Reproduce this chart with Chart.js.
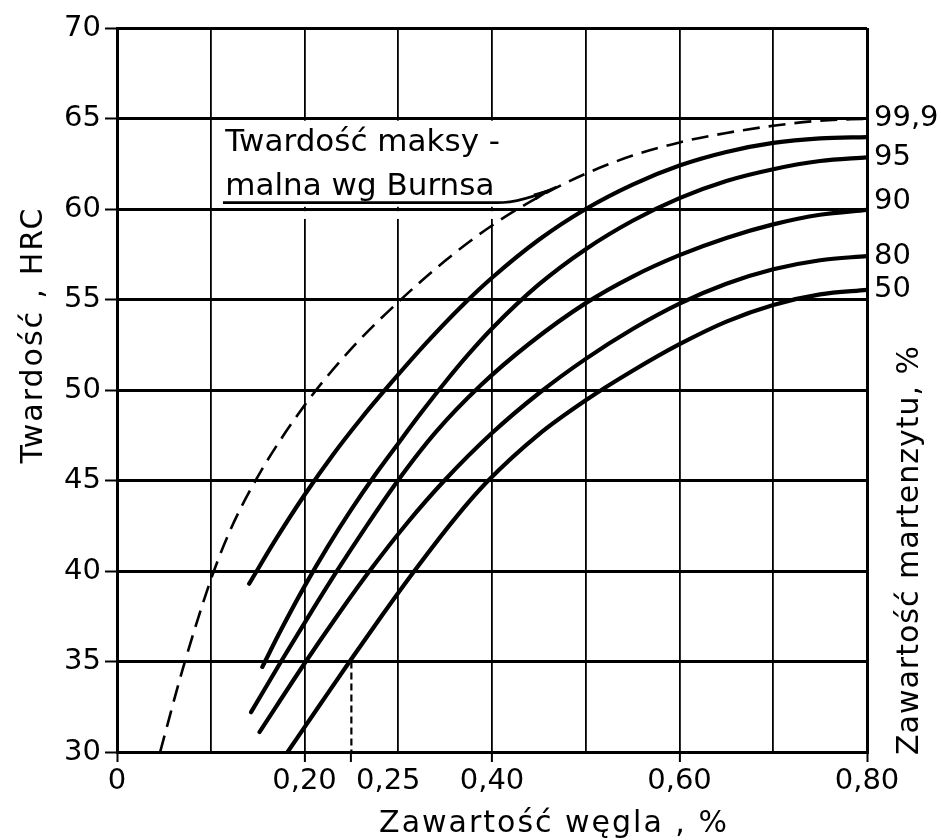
<!DOCTYPE html>
<html><head><meta charset="utf-8">
<script src="https://cdn.jsdelivr.net/npm/chart.js@4.4.1/dist/chart.umd.min.js"></script>
<style>html,body{margin:0;padding:0;background:#fff}canvas{display:block}</style>
</head><body>
<canvas id="c" width="941" height="840"></canvas>
<script>
// ---- tick values / labels ----
const xTickValues = [0, 0.20, 0.25, 0.40, 0.60, 0.80];
const xTickLabels = ['0', '0,20', '0,25', '0,40', '0,60', '0,80'];
const xGridValues = [0, 0.1, 0.2, 0.3, 0.4, 0.5, 0.6, 0.7, 0.8];
const yTickValues = [30, 35, 40, 45, 50, 55, 60, 65, 70];

// ---- texts ----
const xTitle = 'Zawartość węgla , %';
const yTitle = 'Twardość , HRC';
const rightTitle = 'Zawartość martenzytu, %';
const noteLines = ['Twardość maksy -', 'malna wg Burnsa'];
const endLabels = ['99,9', '', '95', '90', '80', '50'];

// ---- series (carbon %, HRC) ----
const burnsC   = [0.046,0.07,0.10,0.12,0.15,0.20,0.25,0.30,0.35,0.40,0.45,0.50,0.55,0.60,0.65,0.70,0.75,0.80];
const burnsHRC = [30.0,34.56,39.51,42.16,45.2,49.15,52.28,54.86,57.14,59.09,60.67,61.95,62.95,63.68,64.2,64.6,64.88,64.99];

const curveA_C   = [0.141,0.17,0.20,0.23,0.26,0.29,0.33,0.37,0.40,0.45,0.50,0.55,0.60,0.65,0.70,0.75,0.80];
const curveA_HRC = [39.3,41.8,44.2,46.4,48.4,50.25,52.6,54.75,56.2,58.3,60.0,61.35,62.4,63.15,63.65,63.9,63.97];

const curve95_C   = [0.155,0.175,0.20,0.225,0.25,0.275,0.30,0.325,0.35,0.375,0.40,0.45,0.50,0.55,0.60,0.65,0.70,0.75,0.80];
const curve95_HRC = [34.7,36.75,39.15,41.36,43.4,45.29,47.05,48.78,50.43,51.98,53.4,55.83,57.78,59.35,60.6,61.55,62.2,62.65,62.85];

const curve90_C   = [0.143,0.175,0.205,0.235,0.265,0.298,0.34,0.388,0.44,0.50,0.55,0.60,0.65,0.70,0.75,0.80];
const curve90_HRC = [32.2,35.0,37.55,40.03,42.4,44.88,47.67,50.26,52.57,54.8,56.27,57.45,58.4,59.15,59.68,59.95];

const curve80_C   = [0.152,0.20,0.235,0.27,0.31,0.35,0.40,0.45,0.50,0.55,0.60,0.65,0.70,0.75,0.80];
const curve80_HRC = [31.1,34.89,37.53,40.04,42.68,45.04,47.62,49.82,51.72,53.37,54.77,55.87,56.67,57.17,57.4];

const curve50_C   = [0.182,0.215,0.25,0.283,0.316,0.36,0.395,0.45,0.50,0.55,0.60,0.65,0.70,0.75,0.80];
const curve50_HRC = [30.0,32.5,35.14,37.57,39.92,42.87,44.94,47.55,49.43,51.06,52.53,53.78,54.7,55.28,55.53];

// ---- build ----
const FONT = '"DejaVu Sans", "Liberation Sans", sans-serif';
Chart.defaults.font.family = FONT;
Chart.defaults.color = '#000';

const allXTicks = [...new Set([...xGridValues, ...xTickValues])].sort((a, b) => a - b);
const labelIndex = v => xTickValues.findIndex(t => Math.abs(t - v) < 1e-9);
const series = (cs, hs) => cs.map((c, i) => ({ x: c, y: hs[i] }));

const solid = { borderColor: '#000', borderWidth: 4.2, pointRadius: 0, pointHoverRadius: 0,
  cubicInterpolationMode: 'monotone', fill: false, borderCapStyle: 'round', borderJoinStyle: 'round' };

const datasets = [
  { ...solid, label: 'Twardość maksymalna wg Burnsa', data: series(burnsC, burnsHRC),
    borderWidth: 2.6, borderDash: [17, 9], borderCapStyle: 'butt', endLabel: endLabels[0], labelShift: 0 },
  { ...solid, label: 'krzywa górna', data: series(curveA_C, curveA_HRC), endLabel: endLabels[1], labelShift: 0 },
  { ...solid, label: '95 %', data: series(curve95_C, curve95_HRC), endLabel: endLabels[2], labelShift: 0 },
  { ...solid, label: '90 %', data: series(curve90_C, curve90_HRC), endLabel: endLabels[3], labelShift: -8 },
  { ...solid, label: '80 %', data: series(curve80_C, curve80_HRC), endLabel: endLabels[4], labelShift: 0 },
  { ...solid, label: '50 %', data: series(curve50_C, curve50_HRC), endLabel: endLabels[5], labelShift: 0 }
];

const decor = {
  id: 'decor',
  beforeDraw(chart) {
    const c = chart.ctx; c.save(); c.fillStyle = '#fff'; c.fillRect(0, 0, chart.width, chart.height); c.restore();
  },
  beforeDatasetsDraw(chart) {
    const { ctx, scales: { x, y } } = chart;
    ctx.save();
    ctx.fillStyle = '#fff';
    const l = x.getPixelForValue(0.15), r = x.getPixelForValue(0.45);
    const t1 = y.getPixelForValue(64.88), b1 = y.getPixelForValue(60.12);
    ctx.fillRect(l, t1, r - l, b1 - t1);
    const t2 = y.getPixelForValue(59.88), b2 = y.getPixelForValue(59.45);
    ctx.fillRect(l, t2, r - l, b2 - t2);
    // short dashed marker at 0,25
    ctx.strokeStyle = '#000'; ctx.lineWidth = 2.2; ctx.setLineDash([7, 4]);
    const xm = x.getPixelForValue(0.25);
    ctx.beginPath(); ctx.moveTo(xm, y.getPixelForValue(35)); ctx.lineTo(xm, y.getPixelForValue(30)); ctx.stroke();
    ctx.restore();
  },
  afterDatasetsDraw(chart) {
    const { ctx, chartArea: ca, scales: { x, y } } = chart;
    ctx.save();
    ctx.fillStyle = '#000'; ctx.strokeStyle = '#000';
    // note text
    ctx.font = '31px ' + FONT;
    ctx.textAlign = 'left'; ctx.textBaseline = 'alphabetic';
    ctx.fillText(noteLines[0], x.getPixelForValue(0.1155), y.getPixelForValue(63.2));
    ctx.fillText(noteLines[1], x.getPixelForValue(0.1155), y.getPixelForValue(60.8));
    // leader line with arrow
    const p0 = [x.getPixelForValue(0.113), y.getPixelForValue(60.35)];
    const p1 = [x.getPixelForValue(0.405), y.getPixelForValue(60.35)];
    const cp = [x.getPixelForValue(0.432), y.getPixelForValue(60.35)];
    const p2 = [x.getPixelForValue(0.469), y.getPixelForValue(61.22)];
    ctx.lineWidth = 2.8;
    ctx.beginPath(); ctx.moveTo(p0[0], p0[1]); ctx.lineTo(p1[0], p1[1]);
    ctx.quadraticCurveTo(cp[0], cp[1], p2[0], p2[1]); ctx.stroke();
    const ang = Math.atan2(p2[1] - cp[1], p2[0] - cp[0]);
    const L = 24, W = 3.5;
    ctx.beginPath();
    ctx.moveTo(p2[0], p2[1]);
    ctx.lineTo(p2[0] - L * Math.cos(ang) + W * Math.sin(ang), p2[1] - L * Math.sin(ang) - W * Math.cos(ang));
    ctx.lineTo(p2[0] - L * Math.cos(ang) - W * Math.sin(ang), p2[1] - L * Math.sin(ang) + W * Math.cos(ang));
    ctx.closePath(); ctx.fill();
    // end labels
    ctx.font = '29px ' + FONT;
    ctx.textBaseline = 'middle';
    chart.data.datasets.forEach(ds => {
      if (!ds.endLabel) return;
      const last = ds.data[ds.data.length - 1];
      ctx.fillText(ds.endLabel, ca.right + 7, y.getPixelForValue(last.y) + (ds.labelShift || 0));
    });
    ctx.restore();
  },
  afterDraw(chart) {
    const { ctx, chartArea: ca } = chart;
    ctx.save();
    ctx.fillStyle = '#000';
    ctx.font = '30px ' + FONT;
    ctx.letterSpacing = '2px';
    ctx.textAlign = 'center'; ctx.textBaseline = 'alphabetic';
    ctx.fillText(xTitle, (ca.left + ca.right) / 2 + 62, ca.bottom + 80);
    ctx.save();
    ctx.translate(ca.left - 75, (ca.top + ca.bottom) / 2 - 55);
    ctx.rotate(-Math.PI / 2);
    ctx.fillText(yTitle, 0, 0);
    ctx.restore();
    ctx.letterSpacing = '1px';
    ctx.save();
    ctx.translate(ca.right + 51, (ca.top + ca.bottom) / 2 + 160);
    ctx.rotate(-Math.PI / 2);
    ctx.fillText(rightTitle, 0, 0);
    ctx.restore();
    ctx.restore();
  }
};

new Chart(document.getElementById('c'), {
  type: 'line',
  data: { datasets },
  plugins: [decor],
  options: {
    responsive: false,
    animation: false,
    devicePixelRatio: 1,
    layout: { padding: { top: 28, right: 74, left: 0, bottom: 0 } },
    plugins: { legend: { display: false }, tooltip: { enabled: false } },
    scales: {
      x: {
        type: 'linear', min: 0, max: 0.8, position: 'bottom',
        afterBuildTicks: s => { s.ticks = allXTicks.map(v => ({ value: v })); },
        afterFit: s => { s.height = 88; },
        ticks: {
          autoSkip: false, maxRotation: 0, minRotation: 0, padding: 2,
          font: { size: 29 }, color: '#000',
          callback: v => { const i = labelIndex(v); if (i < 0) return ''; return (Math.abs(v - 0.25) < 1e-9 ? '        ' : '') + xTickLabels[i]; }
        },
        grid: {
          color: c => (c.tick && Math.abs(c.tick.value - 0.25) < 1e-9) ? 'rgba(0,0,0,0)' : '#000',
          lineWidth: c => (c.tick && (c.tick.value === 0 || c.tick.value === 0.8)) ? 3 : 1.8,
          tickColor: c => (c.tick && labelIndex(c.tick.value) >= 0) ? '#000' : 'rgba(0,0,0,0)',
          tickLength: 10, tickWidth: 2, drawTicks: true
        },
        border: { display: true, color: '#000', width: 3 }
      },
      y: {
        type: 'linear', min: 30, max: 70, position: 'left',
        afterBuildTicks: s => { s.ticks = yTickValues.map(v => ({ value: v })); },
        afterFit: s => { s.width = 117; },
        ticks: { autoSkip: false, padding: 4, font: { size: 29 }, color: '#000', callback: v => String(v) },
        grid: { color: '#000', lineWidth: 3, tickLength: 12, tickWidth: 2, tickColor: '#000' },
        border: { display: true, color: '#000', width: 3 }
      }
    }
  }
});
</script>
</body></html>
